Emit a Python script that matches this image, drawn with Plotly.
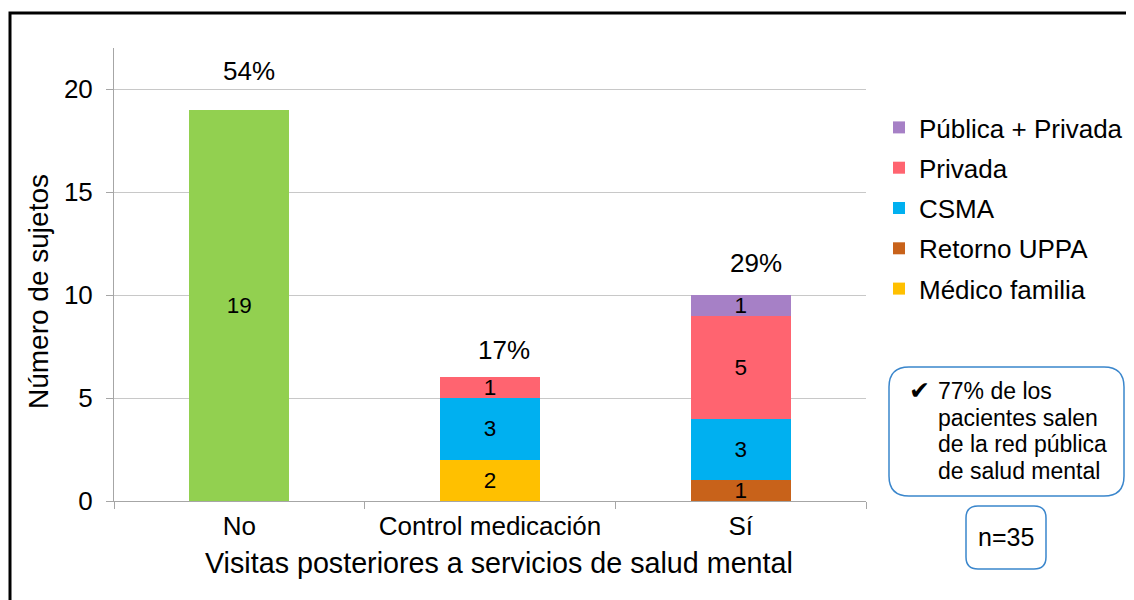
import plotly.graph_objects as go

categories = ["No", "Control medicación", "Sí"]
no_visits = [19, None, None]
medico_familia = [None, 2, None]
retorno_uppa = [None, None, 1]
csma = [None, 3, 3]
privada = [None, 1, 5]
publica_privada = [None, None, 1]
pct_labels = ["54%", "17%", "29%"]
totals = [19, 6, 10]
callout_lines = ["77% de los", "pacientes salen", "de la red pública", "de salud mental"]

series = [
    ("No", no_visits, "#92D050", False),
    ("Médico familia", medico_familia, "#FFC000", True),
    ("Retorno UPPA", retorno_uppa, "#C8621A", True),
    ("CSMA", csma, "#00B0F0", True),
    ("Privada", privada, "#FF6470", True),
    ("Pública + Privada", publica_privada, "#A680C6", True),
]

FONT = "Liberation Sans, Arial, sans-serif"
OFF = 8  # page body margin
W, H = 1134 - OFF, 600 - OFF
# plot area in page pixels
L, R, T, B = 114, 866, 48, 501


def px(x):
    return (x - L) / (R - L)


def py(y):
    return (B - y) / (B - T)


def rounded(x0, y0, x1, y1, r):
    pts = [
        ("M", [(x0 + r, y0)]),
        ("L", [(x1 - r, y0)]),
        ("Q", [(x1, y0), (x1, y0 + r)]),
        ("L", [(x1, y1 - r)]),
        ("Q", [(x1, y1), (x1 - r, y1)]),
        ("L", [(x0 + r, y1)]),
        ("Q", [(x0, y1), (x0, y1 - r)]),
        ("L", [(x0, y0 + r)]),
        ("Q", [(x0, y0), (x0 + r, y0)]),
    ]
    s = ""
    for cmd, ps in pts:
        s += cmd + " " + " ".join(f"{px(a):.5f},{py(b):.5f}" for a, b in ps) + " "
    return s + "Z"


fig = go.Figure()
n = len(series)
for i, (name, vals, color, show) in enumerate(series):
    fig.add_trace(go.Bar(
        x=categories, y=vals, name=name, marker=dict(color=color, line=dict(width=0)),
        text=[("" if v is None else str(v)) for v in vals],
        textposition="inside", insidetextanchor="middle", textangle=0,
        textfont=dict(family=FONT, size=22.5, color="black"),
        showlegend=show, legendgroup=f"g{i}", legendrank=100 * (n - i),
    ))

pct_xshift = [10, 14, 15]
pct_yshift = [22, 10, 15]
for c, t, lab, sx, sy in zip(categories, totals, pct_labels, pct_xshift, pct_yshift):
    fig.add_annotation(x=c, y=t, text=lab, showarrow=False, yanchor="bottom", xshift=sx, yshift=sy,
                       font=dict(family=FONT, size=26, color="black"))

fig.update_layout(
    width=W, height=H,
    margin=dict(l=L - OFF, r=1134 - R, t=T - OFF, b=600 - B, autoexpand=False),
    paper_bgcolor="white", plot_bgcolor="white",
    barmode="stack", bargap=0.6,
    uniformtext=dict(minsize=22, mode="show"),
    font=dict(family=FONT, color="black"),
    legend=dict(x=px(879), y=py(104), xanchor="left", yanchor="top",
                traceorder="grouped", tracegroupgap=3.5,
                font=dict(family=FONT, size=26, color="black")),
    xaxis=dict(showline=True, linecolor="#A6A6A6", linewidth=1, ticks="outside",
               tickson="boundaries", ticklen=7, tickcolor="#A6A6A6", ticklabelstandoff=2,
               tickfont=dict(family=FONT, size=26, color="black"), showgrid=False),
    yaxis=dict(range=[0, 22], dtick=5, showline=True, linecolor="#A6A6A6", linewidth=1,
               ticks="outside", ticklen=7, tickcolor="#A6A6A6", ticklabelstandoff=8,
               gridcolor="#C8C8C8", gridwidth=1, zeroline=False,
               tickfont=dict(family=FONT, size=26, color="black")),
)

# axis titles
fig.add_annotation(xref="paper", yref="paper", x=px(499), y=py(563), xanchor="center", yanchor="middle",
                   text="Visitas posteriores a servicios de salud mental",
                   showarrow=False, font=dict(family=FONT, size=28.7, color="black"))
fig.add_annotation(xref="paper", yref="paper", x=px(38), y=py(292), xanchor="center", yanchor="middle",
                   text="Número de sujetos", textangle=-90,
                   showarrow=False, font=dict(family=FONT, size=28, color="black"))

# outer frame (top and left visible)
fig.add_shape(type="rect", xref="paper", yref="paper", x0=px(10), x1=px(1150), y0=py(13), y1=py(620),
              line=dict(color="black", width=3), fillcolor="rgba(0,0,0,0)")

# callout boxes
fig.add_shape(type="path", xref="paper", yref="paper", path=rounded(889, 367, 1124, 496, 20),
              line=dict(color="#3A86CC", width=1.5))
fig.add_shape(type="path", xref="paper", yref="paper", path=rounded(966, 506, 1046, 569, 12),
              line=dict(color="#3A86CC", width=1.5))
fig.add_annotation(xref="paper", yref="paper", x=px(919), y=py(390), xanchor="center", yanchor="middle",
                   text="✔", showarrow=False, font=dict(family="DejaVu Sans", size=25, color="black"))
for k, line in enumerate(callout_lines):
    fig.add_annotation(xref="paper", yref="paper", x=px(936), y=py(391 + 26.7 * k), xanchor="left",
                       yanchor="middle", text=line, showarrow=False,
                       font=dict(family=FONT, size=23, color="black"))
fig.add_annotation(xref="paper", yref="paper", x=px(1006), y=py(537), xanchor="center", yanchor="middle",
                   text="n=35", showarrow=False, font=dict(family=FONT, size=25, color="black"))

fig.write_html("out.html")
